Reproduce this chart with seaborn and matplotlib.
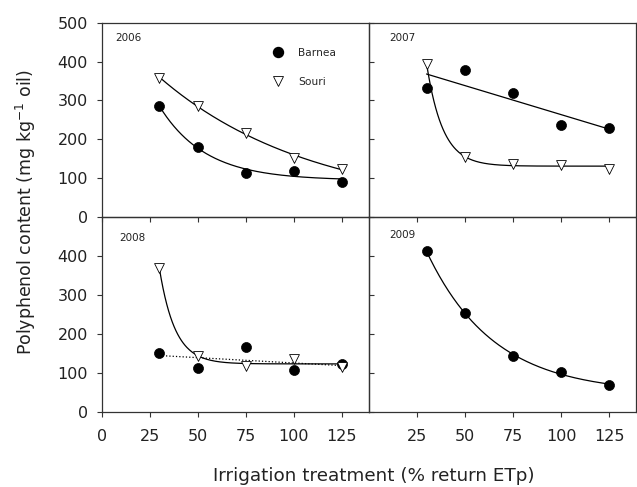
import numpy as np
import pandas as pd
import matplotlib
matplotlib.use("Agg")
import matplotlib.pyplot as plt
import seaborn as sns
from matplotlib.lines import Line2D

sns.set_style("ticks")
plt.rcParams["font.family"] = ["DejaVu Sans"]

# Irrigation treatments (% return ETp)
irrigation = [30, 50, 75, 100, 125]

# Polyphenol content (mg kg-1 oil) per year and cultivar
barnea_2006 = [285, 180, 114, 119, 91]
souri_2006 = [359, 285, 216, 153, 125]
barnea_2007 = [333, 379, 320, 236, 229]
souri_2007 = [395, 155, 136, 134, 125]
barnea_2008 = [151, 113, 166, 106, 121]
souri_2008 = [368, 144, 118, 136, 114]
barnea_2009 = [412, 253, 144, 101, 68]

years = ["2006", "2007", "2008", "2009"]
x_ticks = [0, 25, 50, 75, 100, 125]
y_ticks = [0, 100, 200, 300, 400, 500]


def fit_exp(x, y):
    """Least-squares fit of y = a + b*exp(-c*x); returns a callable."""
    x = np.asarray(x, float)
    y = np.asarray(y, float)
    best = None
    for c in np.linspace(0.002, 0.4, 4000):
        A = np.column_stack([np.ones_like(x), np.exp(-c * x)])
        coef, *_ = np.linalg.lstsq(A, y, rcond=None)
        sse = np.sum((A @ coef - y) ** 2)
        if best is None or sse < best[0]:
            best = (sse, coef, c)
    _, (a, b), c = best
    return lambda t: a + b * np.exp(-c * t)


def fit_lin(x, y):
    m, k = np.polyfit(x, y, 1)
    return lambda t: m * t + k


def draw_fit(ax, x, y, kind, style="-"):
    f = fit_exp(x, y) if kind == "exp" else fit_lin(x, y)
    xs = np.linspace(min(x), max(x), 200)
    sns.lineplot(x=xs, y=f(xs), ax=ax, color="black", lw=0.9,
                 linestyle=style, estimator=None, legend=False)


def draw_points(ax, y, cultivar):
    if cultivar == "Barnea":
        sns.scatterplot(x=irrigation, y=y, ax=ax, marker="o", s=52,
                        color="black", edgecolor="black", linewidth=0.5,
                        zorder=3, legend=False)
    else:
        sns.scatterplot(x=irrigation, y=y, ax=ax, marker="v", s=50,
                        facecolor="white", edgecolor="black", linewidth=0.6,
                        zorder=3, legend=False)


fig, axes = plt.subplots(2, 2, figsize=(6.37, 4.87), dpi=100)
fig.subplots_adjust(left=0.1597, right=0.9985, bottom=0.155, top=0.9534,
                    wspace=0, hspace=0)

(ax06, ax07), (ax08, ax09) = axes

draw_fit(ax06, irrigation, barnea_2006, "exp")
draw_fit(ax06, irrigation, souri_2006, "exp")
draw_points(ax06, barnea_2006, "Barnea")
draw_points(ax06, souri_2006, "Souri")

draw_fit(ax07, irrigation, barnea_2007, "lin")
draw_fit(ax07, irrigation, souri_2007, "exp")
draw_points(ax07, barnea_2007, "Barnea")
draw_points(ax07, souri_2007, "Souri")

draw_fit(ax08, irrigation, barnea_2008, "lin", style=":")
draw_fit(ax08, irrigation, souri_2008, "exp")
draw_points(ax08, barnea_2008, "Barnea")
draw_points(ax08, souri_2008, "Souri")

draw_fit(ax09, irrigation, barnea_2009, "exp")
draw_points(ax09, barnea_2009, "Barnea")

year_pos = [(0.05, 0.92), (0.077, 0.92), (0.066, 0.895), (0.077, 0.91)]
for ax, yr, (tx, ty) in zip(axes.flat, years, year_pos):
    ax.set_facecolor("none")
    ax.set_xlim(0, 139)
    ax.set_ylim(0, 500)
    ax.set_xticks(x_ticks)
    ax.set_yticks(y_ticks)
    ax.set_xlabel("")
    ax.set_ylabel("")
    for sp in ax.spines.values():
        sp.set_visible(True)
        sp.set_linewidth(0.9)
        sp.set_color("#333333")
    ax.tick_params(axis="both", length=3.5, width=0.8, color="#333333",
                   labelsize=11.5, labelcolor="#222222")
    ax.tick_params(axis="x", pad=9)
    ax.tick_params(axis="y", pad=6.5)
    ax.text(tx, ty, yr, transform=ax.transAxes, fontsize=7.5,
            va="center", ha="left", color="#222222")

# top row: x ticks without labels
for ax in (ax06, ax07):
    ax.tick_params(axis="x", labelbottom=False)
# right column: inward ticks on the shared border, no labels
for ax in (ax07, ax09):
    ax.tick_params(axis="y", direction="in", labelleft=False)
# tick labels that would collide on shared borders
ax08.set_yticks([0, 100, 200, 300, 400])
ax09.set_yticks([0, 100, 200, 300, 400])
ax09.set_xticks([25, 50, 75, 100, 125])
ax07.set_xticks([25, 50, 75, 100, 125])

handles = [
    Line2D([], [], marker="o", ls="", color="black", markersize=7.2),
    Line2D([], [], marker="v", ls="", markerfacecolor="white",
           markeredgecolor="black", markeredgewidth=0.6, markersize=7.2),
]
ax06.legend(handles, ["Barnea", "Souri"], loc="upper left",
            bbox_to_anchor=(0.6, 0.92), frameon=False, fontsize=7.7,
            handlelength=1.2, handletextpad=1.3, labelspacing=1.75)

fig.text(0.041, 0.565, "Polyphenol content (mg kg$^{-1}$ oil)", rotation=90,
         ha="center", va="center", fontsize=12.5, color="#222222")
fig.text(0.587, 0.023, "Irrigation treatment (% return ETp)",
         ha="center", va="center", fontsize=13.2, color="#222222")

fig.savefig("out.png", dpi=100)
